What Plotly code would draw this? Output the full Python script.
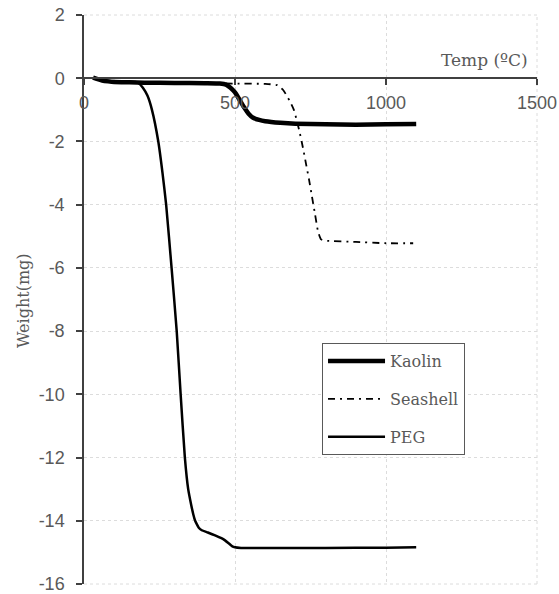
import plotly.graph_objects as go

# ---- data ----
kaolin_x = [30, 45, 60, 80, 100, 150, 200, 300, 400, 450, 470, 485, 500, 515, 530, 545, 560, 580, 600, 650, 700, 800, 900, 1000, 1100]
kaolin_y = [0.02, -0.03, -0.07, -0.1, -0.12, -0.13, -0.14, -0.15, -0.16, -0.17, -0.2, -0.3, -0.45, -0.68, -0.92, -1.12, -1.25, -1.32, -1.36, -1.41, -1.44, -1.46, -1.47, -1.46, -1.45]

seashell_x = [30, 60, 100, 200, 300, 400, 500, 600, 640, 660, 680, 695, 705, 715, 725, 735, 745, 755, 765, 775, 785, 800, 900, 1000, 1090]
seashell_y = [0.0, -0.08, -0.12, -0.14, -0.15, -0.16, -0.17, -0.18, -0.22, -0.38, -0.7, -1.0, -1.35, -1.75, -2.2, -2.7, -3.2, -3.75, -4.3, -4.85, -5.1, -5.14, -5.18, -5.22, -5.22]

peg_x = [30, 50, 80, 120, 150, 170, 180, 195, 210, 225, 246, 260, 272, 290, 307, 320, 334, 345, 355, 362, 368, 373, 380, 390, 410, 434, 455, 467, 480, 490, 500, 520, 600, 800, 1000, 1100]
peg_y = [0.0, -0.05, -0.08, -0.1, -0.11, -0.12, -0.15, -0.3, -0.55, -1.0, -2.0, -3.0, -4.0, -6.0, -8.0, -10.0, -12.0, -13.0, -13.5, -13.8, -14.0, -14.1, -14.22, -14.3, -14.37, -14.46, -14.55, -14.62, -14.72, -14.8, -14.84, -14.86, -14.86, -14.86, -14.85, -14.84]

x_ticks = [0, 500, 1000, 1500]
y_ticks = [2, 0, -2, -4, -6, -8, -10, -12, -14, -16]

GRAY = "#595959"
AXIS = "#404040"
GRID = "#dcdcdc"

fig = go.Figure()
fig.add_trace(go.Scatter(x=kaolin_x, y=kaolin_y, name="Kaolin", mode="lines", legendgroup="a",
                         line=dict(color="black", width=4.5, shape="spline", smoothing=0.5)))
fig.add_trace(go.Scatter(x=seashell_x, y=seashell_y, name="Seashell", mode="lines", legendgroup="b",
                         line=dict(color="black", width=1.8, dash="7px,5px,2px,5px", shape="spline", smoothing=0.5)))
fig.add_trace(go.Scatter(x=peg_x, y=peg_y, name="PEG", mode="lines", legendgroup="c",
                         line=dict(color="black", width=2.5, shape="spline", smoothing=0.5)))

grid_edge = dict(color=GRID, width=1, dash="dot")

fig.update_layout(
    width=559, height=594,
    margin=dict(l=84, r=22, t=15, b=10),
    paper_bgcolor="white", plot_bgcolor="white",
    showlegend=True,
    legend=dict(x=0.525, y=0.4236, xanchor="left", yanchor="top",
                bgcolor="white", bordercolor=GRAY, borderwidth=1.2,
                font=dict(family="DejaVu Serif", size=16, color=GRAY),
                itemwidth=57, traceorder="grouped", tracegroupgap=14),
    xaxis=dict(range=[0, 1500], tickvals=x_ticks, ticktext=[str(v) for v in x_ticks],
               anchor="free", position=16/18, automargin=False,
               showline=True, linecolor=AXIS, linewidth=1.5,
               ticks="outside", ticklen=6, tickwidth=1.5, tickcolor=AXIS,
               ticklabelstandoff=2, ticklabeloverflow="allow",
               tickfont=dict(family="Liberation Sans", size=18, color=GRAY),
               showgrid=True, gridcolor=GRID, griddash="dot", gridwidth=1,
               zeroline=False),
    yaxis=dict(range=[-16, 2], tickvals=y_ticks, ticktext=[str(v) for v in y_ticks],
               domain=[0, 1], automargin=False,
               showline=True, linecolor=AXIS, linewidth=1.5,
               ticks="outside", ticklen=6, tickwidth=1.5, tickcolor=AXIS,
               ticklabelstandoff=8, ticklabeloverflow="allow",
               tickfont=dict(family="Liberation Sans", size=18, color=GRAY),
               showgrid=True, gridcolor=GRID, griddash="dot", gridwidth=1,
               zeroline=False),
    shapes=[
        dict(type="line", xref="paper", yref="paper", x0=0, x1=1, y0=1, y1=1, line=grid_edge, layer="below"),
        dict(type="line", xref="paper", yref="paper", x0=0, x1=1, y0=0, y1=0, line=grid_edge, layer="below"),
        dict(type="line", xref="paper", yref="paper", x0=1, x1=1, y0=0, y1=1, line=grid_edge, layer="below"),
    ],
    annotations=[
        dict(text="Temp (ºC)", xref="paper", yref="paper", x=0.9845, y=0.921,
             xanchor="right", yanchor="middle", showarrow=False,
             font=dict(family="DejaVu Serif", size=17, color=GRAY)),
        dict(text="Weight(mg)", xref="paper", yref="paper", x=-0.1347, y=0.499,
             xanchor="center", yanchor="middle", showarrow=False, textangle=-90,
             font=dict(family="DejaVu Serif", size=16, color=GRAY)),
    ],
)

fig.write_html("out.html")
